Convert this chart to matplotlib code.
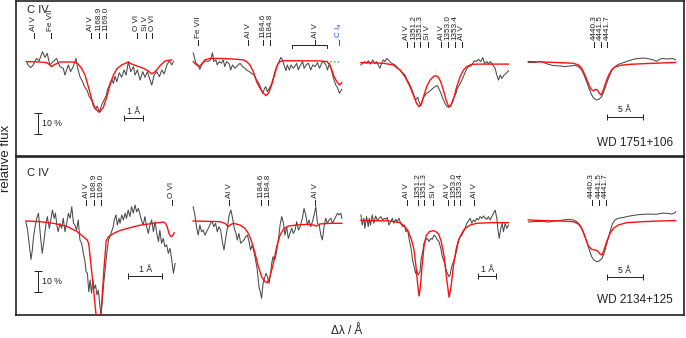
import numpy as np
import matplotlib
matplotlib.use("Agg")
import matplotlib.pyplot as plt
from matplotlib.transforms import blended_transform_factory

plt.rcParams['font.family'] = ['Liberation Sans', 'DejaVu Sans']

# ---------------- data (delta lambda in Angstrom, relative flux) ----------------
T1_OBS = [(-3.88,1.002),(-3.79,0.986),(-3.66,0.973),(-3.52,0.986),(-3.34,1.017),(-3.20,1.006),(-3.02,1.049),
          (-2.89,1.022),(-2.77,1.041),(-2.63,0.986),(-2.45,1.002),(-2.27,1.017),(-2.09,0.978),(-1.91,0.970),
          (-1.82,0.938),(-1.64,0.986),(-1.52,0.954),(-1.38,0.978),(-1.23,1.017),(-1.16,0.978),(-1.02,0.930),
          (-0.88,0.906),(-0.75,0.879),(-0.63,0.863),(-0.52,0.835),(-0.39,0.819),(-0.30,0.790),(-0.18,0.775),
          (-0.09,0.790),(0.02,0.763),(0.14,0.795),(0.27,0.819),(0.38,0.838),(0.45,0.867),(0.59,0.898),
          (0.68,0.917),(0.77,0.898),(0.86,0.933),(0.95,0.906),(1.09,0.949),(1.21,0.927),(1.34,0.962),
          (1.45,0.938),(1.57,1.002),(1.70,0.954),(1.84,0.978),(1.93,0.938),(2.05,0.962),(2.20,0.914),
          (2.34,0.954),(2.46,0.927),(2.59,0.954),(2.70,0.922),(2.82,0.890),(2.95,0.938),(3.09,0.954),
          (3.23,0.930),(3.36,0.962),(3.48,0.943),(3.63,0.986),(3.77,1.006),(3.89,0.986),(3.98,1.002)]
T1_MOD = [(-3.88,1.002),(-3.16,1.000),(-2.80,0.997),(-2.63,0.986),(-2.54,0.978),(-2.41,0.986),(-2.09,1.000),
          (-1.38,1.000),(-1.16,0.994),(-0.93,0.970),(-0.75,0.938),(-0.57,0.883),(-0.39,0.822),(-0.21,0.779),
          (0.02,0.760),(0.23,0.784),(0.41,0.832),(0.59,0.890),(0.77,0.938),(0.95,0.967),(1.21,0.986),
          (1.57,1.000),(1.75,0.990),(2.02,0.981),(2.38,0.970),(2.64,0.957),(2.82,0.943),(3.00,0.954),
          (3.27,0.983),(3.54,1.005),(3.89,1.010)]

T2_OBS = [(-3.89,1.044),(-3.75,0.994),(-3.63,0.986),(-3.54,0.965),(-3.45,0.986),(-3.36,0.997),(-3.21,1.006),
          (-3.09,1.002),(-2.96,1.013),(-2.86,1.044),(-2.79,1.002),(-2.68,1.010),(-2.61,0.986),(-2.50,1.002),
          (-2.38,0.994),(-2.29,1.010),(-2.20,0.978),(-2.11,1.002),(-1.96,0.990),(-1.89,0.962),(-1.79,0.986),
          (-1.66,0.970),(-1.54,0.981),(-1.39,0.994),(-1.25,0.978),(-1.13,0.970),(-1.04,0.962),(-0.89,0.954),
          (-0.77,0.946),(-0.64,0.938),(-0.50,0.914),(-0.38,0.898),(-0.27,0.875),(-0.18,0.851),(-0.11,0.867),
          (-0.02,0.883),(0.07,0.859),(0.18,0.875),(0.27,0.890),(0.36,0.914),(0.45,0.946),(0.57,0.978),
          (0.70,1.002),(0.79,1.022),(0.88,1.010),(0.96,0.986),(1.07,0.959),(1.14,0.986),(1.25,0.962),
          (1.34,0.986),(1.46,0.970),(1.55,0.981),(1.64,0.994),(1.73,0.962),(1.82,0.981),(1.96,1.002),
          (2.04,0.970),(2.14,0.986),(2.27,0.994),(2.39,0.962),(2.50,0.986),(2.63,0.978),(2.75,0.997),
          (2.86,0.970),(2.98,0.994),(3.07,1.002),(3.20,0.986),(3.29,0.962),(3.39,0.994),(3.52,0.954),
          (3.61,0.922),(3.73,0.890),(3.82,0.879),(3.93,0.851),(4.05,0.870)]
T2_MOD = [(-3.89,1.002),(-3.71,0.986),(-3.57,0.978),(-3.45,0.989),(-3.27,1.010),(-3.00,1.017),(-2.46,1.017),
          (-1.75,1.014),(-1.21,1.010),(-1.04,1.002),(-0.86,0.986),(-0.68,0.954),(-0.50,0.906),(-0.32,0.875),
          (-0.14,0.851),(0.00,0.840),(0.13,0.851),(0.30,0.890),(0.48,0.946),(0.61,0.986),(0.75,1.002),
          (0.93,1.006),(1.64,1.006),(2.89,1.005),(3.25,1.002),(3.39,0.990),(3.52,0.962),(3.64,0.930),
          (3.79,0.906),(3.93,0.890),(4.05,0.902)]
T2_ISM = [(3.25,1.004),(4.02,0.998)]

T3_OBS = [(-3.11,0.986),(-2.98,0.997),(-2.89,1.002),(-2.80,0.994),(-2.71,1.006),(-2.59,0.990),(-2.48,1.010),
          (-2.36,0.994),(-2.27,1.002),(-2.18,0.986),(-2.09,0.970),(-2.00,0.994),(-1.91,1.010),(-1.82,1.002),
          (-1.73,1.017),(-1.59,1.005),(-1.46,0.994),(-1.29,0.986),(-1.11,0.970),(-0.93,0.954),(-0.75,0.938),
          (-0.63,0.914),(-0.48,0.890),(-0.34,0.859),(-0.25,0.835),(-0.18,0.819),(-0.07,0.832),(0.00,0.811),
          (0.09,0.790),(0.18,0.819),(0.27,0.835),(0.41,0.851),(0.55,0.859),(0.68,0.870),(0.80,0.879),
          (0.91,0.886),(1.00,0.886),(1.09,0.867),(1.18,0.851),(1.27,0.827),(1.39,0.803),(1.48,0.790),
          (1.59,0.784),(1.70,0.790),(1.80,0.811),(1.89,0.835),(1.98,0.851),(2.05,0.875),(2.16,0.890),
          (2.29,0.914),(2.41,0.938),(2.52,0.962),(2.64,0.978),(2.77,0.981),(2.88,0.994),(2.95,1.006),
          (3.05,1.002),(3.18,1.013),(3.30,1.002),(3.41,1.021),(3.50,0.994),(3.63,1.002),(3.71,0.990),
          (3.80,1.002),(3.89,0.994),(3.98,0.981),(4.07,0.970),(4.16,0.938),(4.25,0.914),(4.34,0.938),
          (4.43,0.922),(4.55,0.938),(4.66,0.946),(4.79,0.959)]
T3_MOD = [(-3.11,0.997),(-1.91,0.994),(-1.38,0.986),(-1.02,0.962),(-0.75,0.930),(-0.48,0.883),(-0.27,0.835),
          (-0.13,0.803),(0.00,0.787),(0.14,0.803),(0.27,0.843),(0.41,0.883),(0.59,0.914),(0.80,0.933),
          (0.91,0.935),(1.04,0.927),(1.16,0.906),(1.30,0.867),(1.45,0.819),(1.59,0.787),(1.71,0.795),
          (1.88,0.835),(2.02,0.883),(2.20,0.930),(2.38,0.962),(2.55,0.978),(2.82,0.989),(3.27,0.990),
          (4.79,0.990)]

T4_OBS = [(-9.54,0.998),(-8.61,0.998),(-7.92,1.003),(-7.45,0.998),(-6.76,0.989),(-6.06,0.983),(-5.14,0.981),
          (-4.44,0.978),(-3.75,0.981),(-3.06,0.984),(-2.59,0.978),(-2.13,0.962),(-1.81,0.938),(-1.44,0.906),
          (-1.11,0.875),(-0.74,0.843),(-0.42,0.827),(-0.05,0.819),(0.32,0.824),(0.65,0.835),(1.02,0.867),
          (1.34,0.898),(1.67,0.930),(2.04,0.959),(2.50,0.978),(2.96,0.989),(3.66,0.997),(4.35,1.005),
          (5.05,1.013),(5.74,1.017),(6.44,1.019),(7.13,1.016),(7.82,1.010),(8.29,1.003),(8.75,1.014),
          (9.21,1.017),(9.68,1.014),(10.14,1.016),(10.60,1.016),(10.93,1.010)]
T4_MOD = [(-9.54,1.002),(-7.45,1.000),(-5.14,0.997),(-3.29,0.994),(-2.59,0.986),(-2.13,0.970),(-1.67,0.938),
          (-1.20,0.898),(-0.83,0.870),(-0.51,0.863),(-0.19,0.870),(0.05,0.867),(0.32,0.851),(0.56,0.843),
          (0.88,0.867),(1.25,0.906),(1.67,0.941),(2.04,0.963),(2.50,0.976),(3.19,0.984),(4.58,0.989),
          (6.44,0.992),(8.75,0.995),(10.93,0.998)]

B1_OBS = [(-2.18,0.997),(-2.13,0.957),(-2.08,0.886),(-2.03,0.817),(-1.99,0.862),(-1.96,0.917),(-1.91,0.973),
          (-1.86,1.013),(-1.81,1.037),(-1.78,0.981),(-1.74,0.910),(-1.70,0.846),(-1.65,0.902),(-1.60,0.973),
          (-1.55,1.021),(-1.49,0.965),(-1.44,1.013),(-1.40,1.052),(-1.35,1.013),(-1.31,1.037),(-1.27,0.981),
          (-1.23,0.949),(-1.18,0.989),(-1.13,0.965),(-1.08,1.013),(-1.03,0.949),(-0.98,0.989),(-0.93,1.037),
          (-0.88,1.013),(-0.83,1.068),(-0.78,0.989),(-0.74,0.981),(-0.69,0.957),(-0.64,1.005),(-0.59,0.910),
          (-0.54,0.894),(-0.49,0.846),(-0.44,0.806),(-0.41,0.759),(-0.37,0.751),(-0.33,0.663),(-0.29,0.719),
          (-0.25,0.656),(-0.21,0.719),(-0.17,0.679),(-0.13,0.695),(-0.09,0.648),(-0.05,0.671),(0.00,0.592),
          (0.03,0.552),(0.06,0.608),(0.10,0.687),(0.15,0.767),(0.20,0.846),(0.25,0.910),(0.29,0.925),
          (0.34,0.949),(0.39,0.973),(0.42,1.005),(0.47,1.029),(0.51,0.981),(0.56,1.013),(0.59,0.989),
          (0.64,1.029),(0.69,1.005),(0.74,1.037),(0.78,1.013),(0.83,1.052),(0.88,1.021),(0.93,1.068),
          (0.98,1.037),(1.03,1.076),(1.08,1.044),(1.13,1.060),(1.18,1.029),(1.23,0.997),(1.27,0.981),
          (1.32,1.021),(1.37,0.973),(1.42,0.941),(1.47,0.981),(1.52,1.005),(1.57,0.949),(1.62,0.997),
          (1.67,0.941),(1.72,0.902),(1.76,0.957),(1.81,0.894),(1.86,0.917),(1.91,0.878),(1.96,0.886),
          (2.01,0.846),(2.06,0.870),(2.11,0.814),(2.16,0.751),(2.21,0.798)]
B1_MOD = [(-2.18,1.000),(-1.76,0.997),(-1.37,0.989),(-0.98,0.975),(-0.69,0.951),(-0.44,0.919),(-0.37,0.908),
          (-0.33,0.890),(-0.27,0.800),(-0.20,0.690),(-0.12,0.560),(-0.06,0.470),(0.00,0.440),(0.03,0.560),
          (0.08,0.680),(0.12,0.780),(0.16,0.860),(0.18,0.905),(0.25,0.925),(0.39,0.940),(0.59,0.955),
          (0.88,0.968),(1.18,0.980),(1.57,0.989),(1.86,0.995),(1.93,0.989),(1.98,0.970),(2.03,0.940),
          (2.09,0.925),(2.14,0.930),(2.18,0.944)]

B2_OBS = [(-3.95,1.068),(-3.86,1.029),(-3.77,0.973),(-3.68,0.933),(-3.59,0.981),(-3.50,0.949),(-3.41,0.957),
          (-3.32,0.933),(-3.23,0.949),(-3.14,0.965),(-3.02,0.989),(-2.93,0.997),(-2.84,0.973),(-2.75,0.989),
          (-2.66,0.949),(-2.57,0.973),(-2.48,0.957),(-2.39,0.902),(-2.30,0.862),(-2.21,0.917),(-2.11,0.973),
          (-2.02,1.029),(-1.93,1.052),(-1.84,1.013),(-1.75,0.965),(-1.66,0.941),(-1.59,0.910),(-1.50,0.941),
          (-1.41,0.894),(-1.32,0.902),(-1.23,0.910),(-1.14,0.925),(-1.05,0.933),(-0.96,0.902),(-0.88,0.862),
          (-0.79,0.886),(-0.70,0.854),(-0.61,0.814),(-0.52,0.767),(-0.43,0.687),(-0.36,0.663),(-0.29,0.632),
          (-0.21,0.703),(-0.14,0.727),(-0.05,0.751),(0.02,0.735),(0.11,0.703),(0.18,0.743),(0.25,0.798),
          (0.32,0.830),(0.41,0.814),(0.48,0.838),(0.55,0.878),(0.63,0.925),(0.70,0.981),(0.79,1.021),
          (0.88,0.989),(0.96,0.933),(1.05,0.973),(1.14,0.917),(1.23,0.941),(1.32,0.965),(1.41,0.941),
          (1.50,0.957),(1.59,0.997),(1.68,0.957),(1.77,0.973),(1.89,1.013),(1.98,1.060),(2.07,1.029),
          (2.16,0.981),(2.25,1.005),(2.34,0.973),(2.43,0.997),(2.52,1.029),(2.61,1.068),(2.70,0.989),
          (2.79,0.981),(2.88,0.933),(2.96,0.910),(3.05,0.973),(3.14,1.013),(3.23,0.989),(3.32,1.005),
          (3.41,1.013),(3.50,0.989),(3.59,1.005),(3.68,1.021),(3.77,1.037),(3.86,1.029),(3.95,1.037),
          (4.00,1.013)]
B2_MOD = [(-3.95,1.000),(-2.52,0.997),(-2.25,0.989),(-2.07,0.973),(-1.98,0.981),(-1.80,0.989),(-1.45,0.981),
          (-1.18,0.965),(-1.00,0.941),(-0.82,0.902),(-0.64,0.846),(-0.46,0.783),(-0.29,0.735),(-0.11,0.711),
          (0.02,0.706),(0.16,0.735),(0.34,0.798),(0.52,0.878),(0.70,0.933),(0.88,0.962),(1.14,0.976),
          (1.59,0.981),(2.13,0.984),(2.48,0.981),(2.66,0.976),(2.84,0.986),(3.38,0.989),(4.00,0.989)]

B3_OBS = [(-3.28,1.029),(-3.21,0.981),(-3.11,1.013),(-3.06,0.965),(-2.96,1.021),(-2.87,0.973),(-2.81,1.013),
          (-2.74,0.981),(-2.64,1.029),(-2.55,0.989),(-2.45,1.024),(-2.36,1.005),(-2.25,1.013),(-2.15,1.021),
          (-2.06,1.005),(-1.96,1.013),(-1.87,1.008),(-1.79,1.017),(-1.70,0.981),(-1.60,0.997),(-1.51,1.013),
          (-1.42,0.989),(-1.32,1.008),(-1.23,0.997),(-1.13,1.013),(-1.04,0.989),(-0.92,0.973),(-0.83,0.981),
          (-0.74,0.949),(-0.64,0.957),(-0.55,0.910),(-0.45,0.870),(-0.36,0.814),(-0.28,0.783),(-0.19,0.751),
          (-0.13,0.767),(-0.04,0.743),(0.06,0.759),(0.11,0.814),(0.21,0.854),(0.28,0.894),(0.38,0.910),
          (0.47,0.917),(0.57,0.902),(0.66,0.917),(0.75,0.913),(0.85,0.933),(0.94,0.925),(1.04,0.910),
          (1.13,0.902),(1.23,0.870),(1.32,0.830),(1.42,0.806),(1.51,0.775),(1.60,0.751),(1.70,0.735),
          (1.75,0.743),(1.85,0.783),(1.94,0.806),(2.04,0.830),(2.13,0.862),(2.23,0.902),(2.32,0.925),
          (2.42,0.933),(2.51,0.949),(2.60,0.965),(2.70,0.989),(2.79,1.000),(2.89,1.013),(2.98,0.989),
          (3.08,1.005),(3.17,0.997),(3.26,1.013),(3.36,1.005),(3.45,1.021),(3.55,1.013),(3.64,1.024),
          (3.74,1.013),(3.83,1.008),(3.92,1.021),(4.02,1.005),(4.11,1.021),(4.21,1.037),(4.30,1.052),
          (4.40,1.013),(4.45,0.965),(4.53,0.917),(4.62,0.965),(4.70,0.989),(4.77,0.949),(4.87,0.989),
          (4.96,0.965),(5.06,0.981)]
B3_MOD = [(-3.28,1.003),(-1.64,1.000),(-1.08,0.992),(-0.79,0.973),(-0.60,0.949),(-0.42,0.910),(-0.28,0.862),
          (-0.17,0.783),(-0.08,0.703),(0.00,0.643),(0.08,0.687),(0.17,0.783),(0.28,0.878),(0.40,0.929),
          (0.58,0.949),(0.81,0.954),(0.96,0.949),(1.11,0.938),(1.26,0.902),(1.42,0.830),(1.57,0.719),
          (1.70,0.637),(1.81,0.687),(1.94,0.783),(2.09,0.862),(2.23,0.910),(2.42,0.941),(2.60,0.965),
          (2.89,0.981),(3.26,0.989),(4.02,0.992),(5.06,0.992)]

B4_OBS = [(-9.54,0.995),(-8.38,0.998),(-7.45,0.998),(-6.76,0.995),(-6.06,0.998),(-5.37,1.002),(-4.68,1.005),
          (-3.98,1.008),(-3.29,1.005),(-2.82,0.997),(-2.36,0.981),(-1.90,0.949),(-1.44,0.902),(-1.06,0.862),
          (-0.74,0.830),(-0.42,0.814),(-0.05,0.806),(0.32,0.810),(0.69,0.822),(1.06,0.854),(1.44,0.902),
          (1.81,0.949),(2.13,0.986),(2.50,1.005),(2.96,1.013),(3.66,1.017),(4.58,1.024),(5.51,1.029),
          (6.44,1.032),(7.36,1.033),(8.29,1.032),(8.98,1.037),(9.68,1.037),(10.37,1.033),(10.69,1.037),
          (10.93,1.044)]
B4_MOD = [(-9.54,1.005),(-7.45,1.002),(-5.14,1.000),(-3.29,0.997),(-2.59,0.986),(-2.13,0.965),(-1.67,0.925),
          (-1.20,0.881),(-0.74,0.865),(-0.28,0.862),(0.05,0.859),(0.42,0.843),(0.69,0.838),(0.97,0.862),
          (1.34,0.902),(1.81,0.941),(2.27,0.965),(2.96,0.981),(4.12,0.992),(6.44,0.997),(8.75,1.000),
          (10.93,1.002)]

# line identifications (delta lambda, label)
T1_IDS = [(-3.48,"Al V"),(-2.57,"Fe VII"),(-0.45,"Al V"),(0.0,"1168.9"),(0.36,"1169.0"),
          (2.03,"O VI"),(2.50,"Si V"),(2.86,"O VI")]
T2_IDS = [(-3.63,"Fe VII"),(-0.95,"Al V"),(-0.14,"1184.6"),(0.23,"1184.8"),(2.63,"Al V")]
T2_BLUE = [(3.88,"C I$_{\\rm a}$")]
T2_RANGE = [1.41, 3.25]
T3_IDS = [(-0.66,"Al V"),(-0.28,"1351.2"),(0.06,"1351.3"),(0.46,"Si V"),(1.20,"Al V"),
          (1.55,"1353.0"),(1.90,"1353.4"),(2.28,"Al V")]
T4_IDS = [(-0.42,"4440.3"),(0.51,"4441.5"),(1.44,"4441.7")]
B1_IDS = [(-0.41,"Al V"),(-0.17,"1168.9"),(0.04,"1169.0"),(2.11,"O VI")]
B2_IDS = [(-2.02,"Al V"),(-0.32,"1184.6"),(0.04,"1184.8"),(2.57,"Al V")]
B3_IDS = [(-0.69,"Al V"),(-0.06,"1351.2"),(0.30,"1351.3"),(0.81,"Si V"),(1.62,"Al V"),
          (1.98,"1353.0"),(2.34,"1353.4"),(3.11,"Al V")]
B4_IDS = [(-0.74,"4440.3"),(0.32,"4441.5"),(1.22,"4441.7")]

STARS = ["WD 1751+106", "WD 2134+125"]
ION = "C IV"

# ---------------- layout ----------------
W, H = 686, 338
fig = plt.figure(figsize=(W / 100, H / 100), dpi=100)
OBS_C, MOD_C, TXT_C = '#4a4a4a', '#ff1010', '#222222'


def px_axes(l, t, r, b, **kw):
    return fig.add_axes([l / W, 1 - b / H, (r - l) / W, (b - t) / H], **kw)


# frames
for (t, b) in [(1, 156), (157, 315)]:
    f = px_axes(16, t, 684, b)
    f.set_xticks([]); f.set_yticks([])
    f.patch.set_alpha(0)
    for s in f.spines.values():
        s.set_linewidth(1.2); s.set_color('#222222')

FLUX_PX = 210.0  # pixels per unit relative flux
ROWS = {0: (2, 156, 62), 1: (158, 315, 221)}  # top px, bottom px, continuum px
COLS = [(24, 177), (191, 345), (359, 511), (526, 680)]


def sub(row, col, center_px, px_per_A):
    t, b, cont = ROWS[row]
    l, r = COLS[col]
    ax = px_axes(l, t, r, b)
    ax.set_xlim((l - center_px) / px_per_A, (r - center_px) / px_per_A)
    ax.set_ylim(1 - (b - cont) / FLUX_PX, 1 + (cont - t) / FLUX_PX)
    ax.axis('off')
    return ax


def spec(ax, obs, mod):
    o = np.array(obs).T
    m = np.array(mod).T
    ax.plot(o[0], o[1], color=OBS_C, lw=0.75, zorder=2)
    ax.plot(m[0], m[1], color=MOD_C, lw=1.0, zorder=3)


def ids(ax, items, tick_px, color=TXT_C):
    tr = blended_transform_factory(ax.transData, fig.transFigure)
    for x, name in items:
        ax.plot([x, x], [1 - tick_px / H, 1 - (tick_px - 5) / H], transform=tr,
                color=color, lw=0.7, clip_on=False)
        ax.text(x, 1 - (tick_px - 7) / H, name, transform=tr, rotation=90,
                ha='center', va='bottom', fontsize=5.9, color=color)


def hbar(ax, x0, length, y, label):
    ax.errorbar([x0 + length / 2], [y], xerr=[length / 2], color=TXT_C, lw=0.7,
                capsize=2.5, capthick=0.7)
    ax.text(x0 + length / 2, y + 0.012, label, ha='center', va='bottom',
            fontsize=6.3, color=TXT_C)


def vbar(ax, x, y0, length, label):
    ax.errorbar([x], [y0 + length / 2], yerr=[length / 2], color=TXT_C, lw=0.7,
                capsize=3, capthick=0.7)
    ax.text(x + (ax.get_xlim()[1] - ax.get_xlim()[0]) * 0.025, y0 + length / 2, label,
            ha='left', va='center', fontsize=6.3, color=TXT_C)


# ---- top row ----
a = sub(0, 0, 99, 18.7)
spec(a, T1_OBS, T1_MOD)
ids(a, T1_IDS, 38)
vbar(a, -3.26, 0.657, 0.10, "10 %")
hbar(a, 1.34, 1.0, 0.733, "1 Å")

a = sub(0, 1, 266, 18.7)
spec(a, T2_OBS, T2_MOD)
g = np.array(T2_ISM).T
a.plot(g[0], g[1], color='#33aa33', lw=1.0, ls=':', zorder=4)
ids(a, T2_IDS, 45)
ids(a, T2_BLUE, 45, color='#3344ee')
tr = blended_transform_factory(a.transData, fig.transFigure)
a.plot([T2_RANGE[0], T2_RANGE[0], T2_RANGE[1], T2_RANGE[1]],
       [1 - 48 / H, 1 - 45 / H, 1 - 45 / H, 1 - 48 / H], transform=tr,
       color=TXT_C, lw=0.7, clip_on=False)

a = sub(0, 2, 419, 18.7)
spec(a, T3_OBS, T3_MOD)
ids(a, T3_IDS, 47)

a = sub(0, 3, 597, 7.2)
spec(a, T4_OBS, T4_MOD)
ids(a, T4_IDS, 47)
hbar(a, 1.34, 5.0, 0.738, "5 Å")

# ---- bottom row ----
a = sub(1, 0, 100, 34.0)
spec(a, B1_OBS, B1_MOD)
ids(a, B1_IDS, 205)
vbar(a, -1.82, 0.662, 0.10, "10 %")
hbar(a, 0.83, 1.0, 0.738, "1 Å")

a = sub(1, 1, 267, 18.7)
spec(a, B2_OBS, B2_MOD)
ids(a, B2_IDS, 205)

a = sub(1, 2, 419, 17.7)
spec(a, B3_OBS, B3_MOD)
ids(a, B3_IDS, 205)
hbar(a, 3.36, 1.0, 0.738, "1 Å")

a = sub(1, 3, 597, 7.2)
spec(a, B4_OBS, B4_MOD)
ids(a, B4_IDS, 205)
hbar(a, 1.34, 5.0, 0.733, "5 Å")

# texts
fig.text(27 / W, 1 - 10 / H, ION, ha='left', va='center', fontsize=8, color=TXT_C)
fig.text(27 / W, 1 - 173 / H, ION, ha='left', va='center', fontsize=8, color=TXT_C)
fig.text(673 / W, 1 - 143 / H, STARS[0], ha='right', va='center', fontsize=8.5, color=TXT_C)
fig.text(673 / W, 1 - 300 / H, STARS[1], ha='right', va='center', fontsize=8.5, color=TXT_C)
fig.text(6 / W, 1 - 158 / H, "relative flux", rotation=90, ha='center', va='center',
         fontsize=9.5, color=TXT_C)
fig.text(347 / W, 1 - 331 / H, "Δλ / Å", ha='center', va='center', fontsize=8.5, color=TXT_C)

fig.savefig("out.png", dpi=100)
